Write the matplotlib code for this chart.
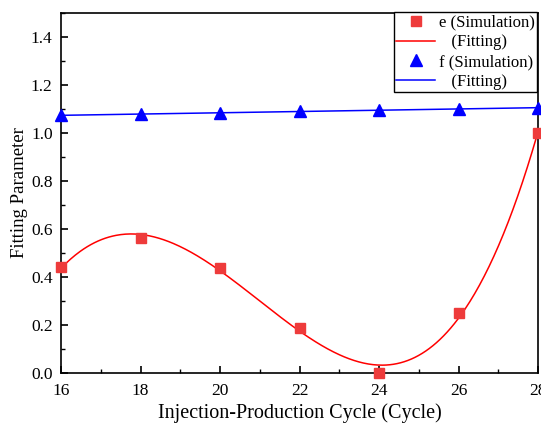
import numpy as np
import matplotlib
matplotlib.use("Agg")
import matplotlib.pyplot as plt
from matplotlib.ticker import MultipleLocator, FormatStrFormatter

plt.rcParams['font.family'] = ['Liberation Serif', 'DejaVu Serif']

cycles = [16, 18, 20, 22, 24, 26, 28]
e_sim = [0.44, 0.564, 0.437, 0.189, 0.0, 0.25, 1.0]
f_sim = [1.075, 1.078, 1.083, 1.090, 1.095, 1.100, 1.106]

x = np.array(cycles, dtype=float)
xs = np.linspace(x.min(), x.max(), 400)
e_fit = np.polyval(np.polyfit(x, e_sim, 4), xs)
f_fit = np.polyval(np.polyfit(x, f_sim, 1), xs)

fig = plt.figure(figsize=(5.41, 4.25), dpi=100)
ax = fig.add_axes([0.1128, 0.1224, 0.8817, 0.847])

ax.plot(cycles, e_sim, 's', color='#ee3b3b', markersize=7, label='e (Simulation)', clip_on=False, zorder=3)
ax.plot(xs, e_fit, '-', color='red', lw=1.1, label='   (Fitting)')
ax.plot(cycles, f_sim, '^', color='blue', markersize=8, label='f (Simulation)', clip_on=False, zorder=3)
ax.plot(xs, f_fit, '-', color='blue', lw=1.1, label='   (Fitting)')

ax.set_xlim(16, 28)
ax.set_ylim(0, 1.5)
ax.xaxis.set_major_locator(MultipleLocator(2))
ax.xaxis.set_minor_locator(MultipleLocator(1))
ax.yaxis.set_major_locator(MultipleLocator(0.2))
ax.yaxis.set_minor_locator(MultipleLocator(0.1))
ax.yaxis.set_major_formatter(FormatStrFormatter('%.1f'))

ax.tick_params(which='both', direction='in', labelsize=12.5)
ax.tick_params(which='major', length=5, width=1.2)
ax.tick_params(which='minor', length=3, width=1.0)
ax.tick_params(axis='x', which='major', pad=7)
ax.tick_params(axis='y', which='major', pad=6)
for s in ax.spines.values():
    s.set_linewidth(1.2)

ax.set_xlabel('Injection-Production Cycle (Cycle)', fontsize=14.5, labelpad=3)
ax.set_ylabel('Fitting Parameter', fontsize=13.5, labelpad=2)

leg = ax.legend(loc='upper right', bbox_to_anchor=(0.9985, 1.002), fontsize=12,
                frameon=True, fancybox=False, edgecolor='black', borderaxespad=0.0,
                handlelength=2.3, labelspacing=0.22, borderpad=0.15,
                handletextpad=0.25, framealpha=1.0)
leg.get_frame().set_linewidth(1.0)

fig.savefig('out.png', dpi=100)
